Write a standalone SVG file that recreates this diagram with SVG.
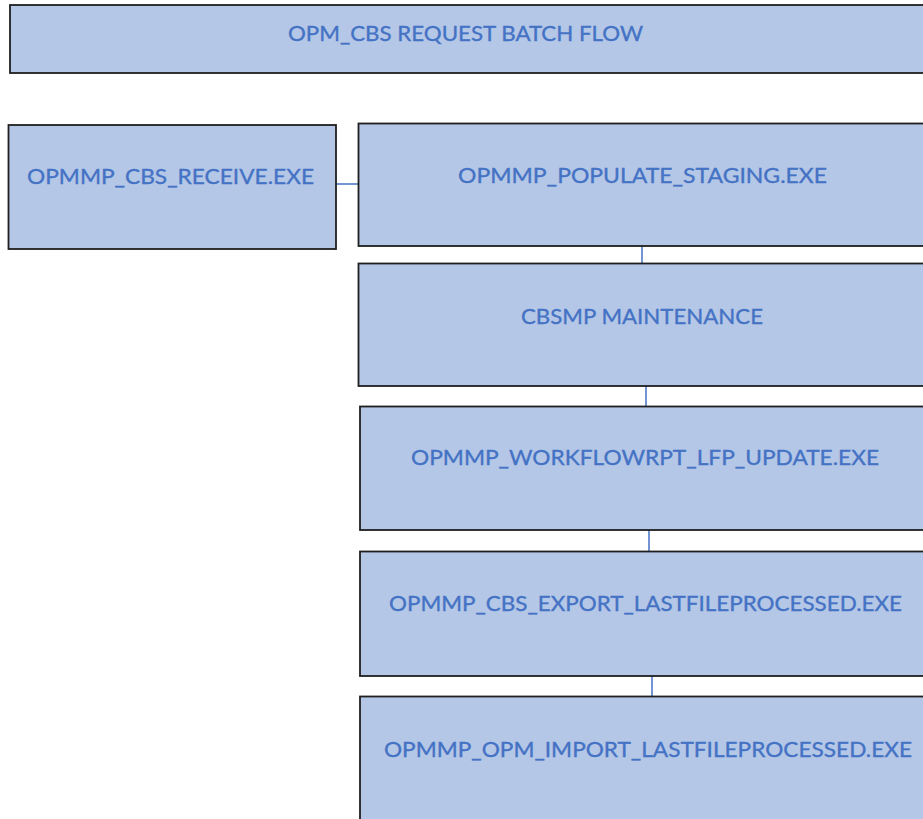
<svg xmlns="http://www.w3.org/2000/svg" width="923" height="819" viewBox="0 0 923 819">
  <style>
    .box { fill: #B4C7E7; stroke: #1F1F1F; stroke-width: 1.8; }
    .lbl { font-family: Lato, "Open Sans", "Liberation Sans", sans-serif; font-size: 22px; fill: #4472C4; stroke: #4472C4; stroke-width: 0.35; }
    .wire { stroke: #4472C4; stroke-width: 1.5; fill: none; }
  </style>
  <rect width="923" height="819" fill="#FFFFFF"/>

  <g id="connectors">
    <line class="wire" x1="336" y1="184" x2="358" y2="184"/>
    <line class="wire" x1="642" y1="246" x2="642" y2="263"/>
    <line class="wire" x1="646" y1="386" x2="646" y2="406"/>
    <line class="wire" x1="649" y1="530" x2="649" y2="551"/>
    <line class="wire" x1="652" y1="676" x2="652" y2="696"/>
  </g>

  <g id="title">
    <rect class="box" x="10" y="5" width="930" height="68"/>
    <text class="lbl" x="288" y="41" textLength="355" lengthAdjust="spacingAndGlyphs">OPM_CBS REQUEST BATCH FLOW</text>
  </g>

  <g id="receive">
    <rect class="box" x="8.5" y="125" width="327.5" height="124"/>
    <text class="lbl" x="27" y="184" textLength="287" lengthAdjust="spacingAndGlyphs">OPMMP_CBS_RECEIVE.EXE</text>
  </g>

  <g id="populate-staging">
    <rect class="box" x="358.5" y="123.5" width="580" height="122.5"/>
    <text class="lbl" x="458" y="183" textLength="369" lengthAdjust="spacingAndGlyphs">OPMMP_POPULATE_STAGING.EXE</text>
  </g>

  <g id="cbsmp-maintenance">
    <rect class="box" x="358.5" y="263.5" width="580" height="122.5"/>
    <text class="lbl" x="521" y="324" textLength="242" lengthAdjust="spacingAndGlyphs">CBSMP MAINTENANCE</text>
  </g>

  <g id="workflowrpt-lfp-update">
    <rect class="box" x="360" y="406.5" width="580" height="123.5"/>
    <text class="lbl" x="411" y="465" textLength="468" lengthAdjust="spacingAndGlyphs">OPMMP_WORKFLOWRPT_LFP_UPDATE.EXE</text>
  </g>

  <g id="cbs-export">
    <rect class="box" x="360" y="551.5" width="580" height="124.5"/>
    <text class="lbl" x="389" y="611" textLength="513" lengthAdjust="spacingAndGlyphs">OPMMP_CBS_EXPORT_LASTFILEPROCESSED.EXE</text>
  </g>

  <g id="opm-import">
    <rect class="box" x="360" y="696.5" width="580" height="140"/>
    <text class="lbl" x="384" y="757" textLength="528" lengthAdjust="spacingAndGlyphs">OPMMP_OPM_IMPORT_LASTFILEPROCESSED.EXE</text>
  </g>
</svg>
